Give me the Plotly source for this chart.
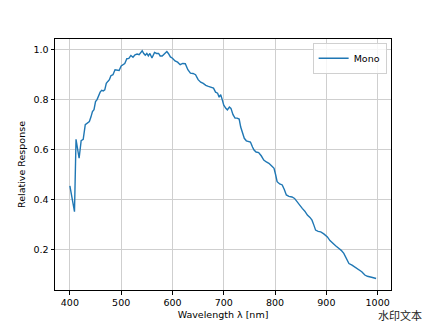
import plotly.graph_objects as go

wavelength = [400, 405, 409, 412, 415, 418, 422, 426, 430, 434, 438, 441, 444, 447, 450, 453, 456, 459,
              462, 465, 468, 471, 474, 477, 480, 484, 488, 492, 496, 500, 503, 507, 511, 515, 519, 523,
              527, 531, 535, 538, 541, 544, 547, 550, 553, 556, 560, 565, 569, 573, 576, 580, 584, 589,
              592, 596, 600, 605, 610, 615, 620, 625, 630, 635, 640, 645, 650, 655, 660, 665, 670, 675,
              680, 684, 688, 691, 694, 697, 700, 704, 707, 711, 714, 718, 722, 726, 730, 733, 736, 740,
              744, 748, 752, 756, 759, 763, 768, 773, 778, 783, 788, 793, 798, 801, 804, 809, 814, 818,
              822, 827, 833, 838, 843, 848, 853, 858, 863, 868, 872, 876, 879, 884, 889, 895, 902, 907,
              912, 918, 924, 929, 934, 939, 944, 950, 957, 963, 969, 975, 980, 988, 997]
mono = [0.454, 0.40, 0.351, 0.641, 0.60, 0.565, 0.636, 0.641, 0.70, 0.705, 0.712, 0.73, 0.752, 0.76,
        0.792, 0.80, 0.819, 0.83, 0.837, 0.835, 0.839, 0.865, 0.873, 0.88, 0.896, 0.90, 0.92, 0.92,
        0.917, 0.935, 0.94, 0.945, 0.964, 0.965, 0.977, 0.97, 0.98, 0.983, 0.98, 0.99, 0.996, 0.985,
        0.978, 0.985, 0.975, 0.985, 0.967, 0.989, 0.985, 0.985, 0.975, 0.975, 0.985, 0.993, 0.985,
        0.971, 0.966, 0.955, 0.95, 0.94, 0.945, 0.944, 0.92, 0.906, 0.905, 0.90, 0.88, 0.87, 0.865,
        0.857, 0.853, 0.848, 0.846, 0.83, 0.826, 0.81, 0.82, 0.80, 0.778, 0.765, 0.759, 0.77, 0.765,
        0.74, 0.726, 0.726, 0.722, 0.69, 0.666, 0.645, 0.635, 0.632, 0.63, 0.61, 0.598, 0.59, 0.588,
        0.575, 0.558, 0.55, 0.545, 0.535, 0.525, 0.50, 0.471, 0.462, 0.458, 0.44, 0.418, 0.412, 0.41,
        0.404, 0.39, 0.375, 0.364, 0.353, 0.337, 0.328, 0.317, 0.295, 0.277, 0.272, 0.27, 0.262, 0.25,
        0.235, 0.224, 0.214, 0.204, 0.196, 0.184, 0.165, 0.143, 0.137, 0.127, 0.118, 0.11, 0.097,
        0.092, 0.088, 0.083]

x_ticks = [400, 500, 600, 700, 800, 900, 1000]
y_ticks = [0.2, 0.4, 0.6, 0.8, 1.0]

FONT = "DejaVu Sans"

fig = go.Figure()
fig.add_trace(go.Scatter(x=wavelength, y=mono, mode="lines", name="Mono",
                         line=dict(color="#1f77b4", width=1.4)))

axis_common = dict(showline=True, linecolor="black", linewidth=1, mirror=True,
                   ticks="outside", ticklen=3.5, tickwidth=1, tickcolor="black",
                   showgrid=True, gridcolor="#cfcfcf", gridwidth=1, zeroline=False,
                   automargin=False,
                   tickfont=dict(family=FONT, size=9.5, color="black"))

fig.update_layout(
    width=435, height=326,
    margin=dict(l=55, r=44, t=39, b=36, autoexpand=False),
    paper_bgcolor="white", plot_bgcolor="white",
    font=dict(family=FONT, size=9.5, color="black"),
    xaxis=dict(range=[371, 1026], tickvals=x_ticks, ticktext=[str(v) for v in x_ticks],
               title=dict(text="Wavelength λ [nm]", font=dict(family=FONT, size=9.5), standoff=4),
               **axis_common),
    yaxis=dict(range=[0.037, 1.043], tickvals=y_ticks, ticktext=[f"{v:.1f}" for v in y_ticks],
               title=dict(text="Relative Response", font=dict(family=FONT, size=9.5), standoff=6),
               **axis_common),
    showlegend=True,
    legend=dict(x=0.987, y=0.985, xanchor="right", yanchor="top",
                bgcolor="rgba(255,255,255,0.8)", bordercolor="#d0d0d0", borderwidth=1,
                font=dict(family=FONT, size=9.5, color="black"),
                itemwidth=30, tracegroupgap=0),
)

fig.add_annotation(text="水印文本", xref="paper", yref="paper", x=1.095, y=-0.1,
                   xanchor="right", yanchor="middle", showarrow=False, borderpad=0,
                   font=dict(family="Noto Sans CJK SC", size=11, color="#222222"))

fig.write_html("out.html",
               config={"displayModeBar": False},
               post_script="document.body.style.margin='0';document.body.style.overflow='hidden';")
